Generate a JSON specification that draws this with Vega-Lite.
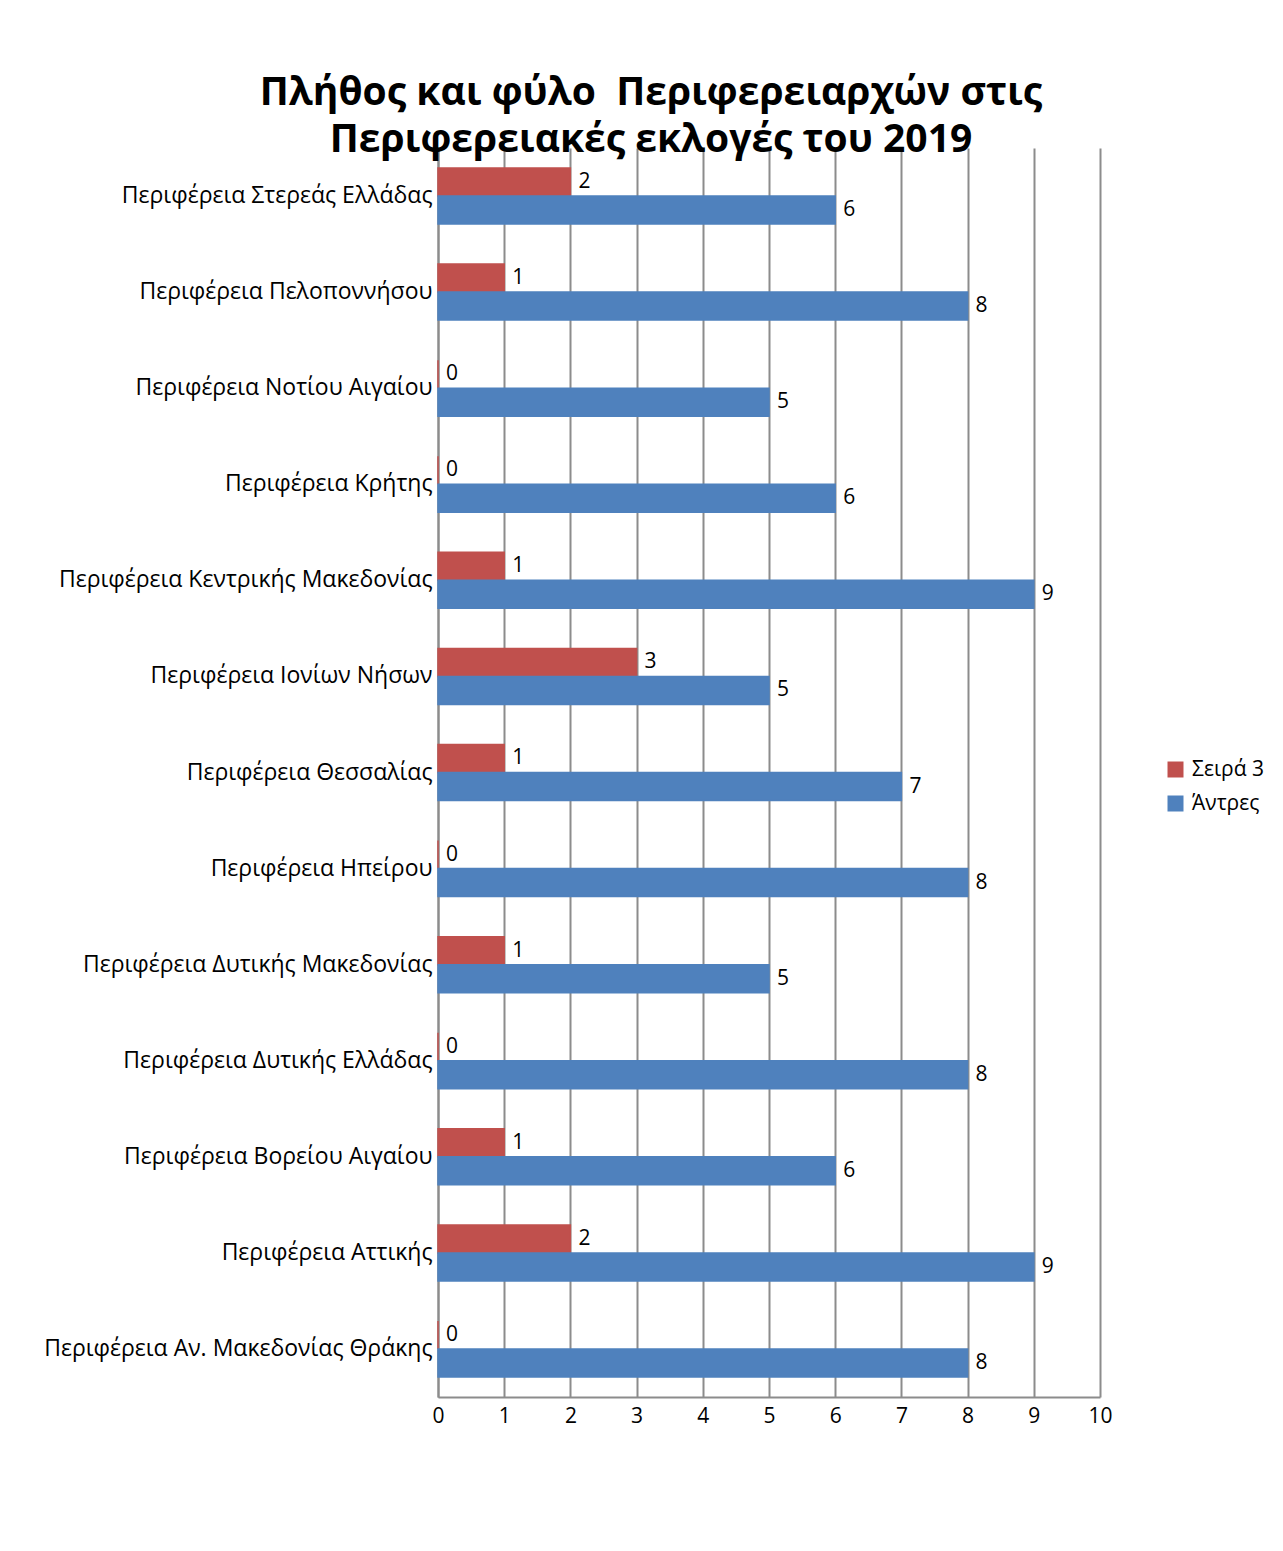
{
  "$schema": "https://vega.github.io/schema/vega-lite/v6.json",
  "width": 662,
  "height": 1249,
  "autosize": {"type": "none"},
  "padding": {"left": 438, "top": 148, "right": 183, "bottom": 154},
  "background": "white",
  "title": {
    "text": ["Πλήθος και φύλο\u00a0 Περιφερειαρχών στις", "Περιφερειακές εκλογές του 2019"],
    "font": "Open Sans",
    "fontSize": 39,
    "fontWeight": "bold",
    "color": "black",
    "anchor": "middle",
    "dx": -118,
    "offset": -12,
    "lineHeight": 47
  },
  "data": {
    "values": [
      {"region": "Περιφέρεια Στερεάς Ελλάδας", "series": "Σειρά 3", "value": 2},
      {"region": "Περιφέρεια Στερεάς Ελλάδας", "series": "Άντρες", "value": 6},
      {"region": "Περιφέρεια Πελοποννήσου", "series": "Σειρά 3", "value": 1},
      {"region": "Περιφέρεια Πελοποννήσου", "series": "Άντρες", "value": 8},
      {"region": "Περιφέρεια Νοτίου Αιγαίου", "series": "Σειρά 3", "value": 0},
      {"region": "Περιφέρεια Νοτίου Αιγαίου", "series": "Άντρες", "value": 5},
      {"region": "Περιφέρεια Κρήτης", "series": "Σειρά 3", "value": 0},
      {"region": "Περιφέρεια Κρήτης", "series": "Άντρες", "value": 6},
      {"region": "Περιφέρεια Κεντρικής Μακεδονίας", "series": "Σειρά 3", "value": 1},
      {"region": "Περιφέρεια Κεντρικής Μακεδονίας", "series": "Άντρες", "value": 9},
      {"region": "Περιφέρεια Ιονίων Νήσων", "series": "Σειρά 3", "value": 3},
      {"region": "Περιφέρεια Ιονίων Νήσων", "series": "Άντρες", "value": 5},
      {"region": "Περιφέρεια Θεσσαλίας", "series": "Σειρά 3", "value": 1},
      {"region": "Περιφέρεια Θεσσαλίας", "series": "Άντρες", "value": 7},
      {"region": "Περιφέρεια Ηπείρου", "series": "Σειρά 3", "value": 0},
      {"region": "Περιφέρεια Ηπείρου", "series": "Άντρες", "value": 8},
      {"region": "Περιφέρεια Δυτικής Μακεδονίας", "series": "Σειρά 3", "value": 1},
      {"region": "Περιφέρεια Δυτικής Μακεδονίας", "series": "Άντρες", "value": 5},
      {"region": "Περιφέρεια Δυτικής Ελλάδας", "series": "Σειρά 3", "value": 0},
      {"region": "Περιφέρεια Δυτικής Ελλάδας", "series": "Άντρες", "value": 8},
      {"region": "Περιφέρεια Βορείου Αιγαίου", "series": "Σειρά 3", "value": 1},
      {"region": "Περιφέρεια Βορείου Αιγαίου", "series": "Άντρες", "value": 6},
      {"region": "Περιφέρεια Αττικής", "series": "Σειρά 3", "value": 2},
      {"region": "Περιφέρεια Αττικής", "series": "Άντρες", "value": 9},
      {"region": "Περιφέρεια Αν. Μακεδονίας Θράκης", "series": "Σειρά 3", "value": 0},
      {"region": "Περιφέρεια Αν. Μακεδονίας Θράκης", "series": "Άντρες", "value": 8}
    ]
  },
  "encoding": {
    "y": {
      "field": "region",
      "type": "nominal",
      "sort": null,
      "scale": {"paddingInner": 0.417, "paddingOuter": 0.208},
      "axis": {
        "title": null,
        "ticks": false,
        "grid": false,
        "domainColor": "#8c8c8c",
        "domainWidth": 2,
        "labelFont": "Open Sans",
        "labelFontSize": 23,
        "labelColor": "black",
        "labelPadding": 6,
        "labelLimit": 0
      }
    },
    "yOffset": {
      "field": "series",
      "type": "nominal",
      "sort": ["Σειρά 3", "Άντρες"],
      "scale": {"paddingInner": 0, "paddingOuter": 0}
    },
    "x": {
      "field": "value",
      "type": "quantitative",
      "scale": {"domain": [0, 10], "nice": false},
      "axis": {
        "title": null,
        "values": [0, 1, 2, 3, 4, 5, 6, 7, 8, 9, 10],
        "format": "d",
        "grid": true,
        "gridColor": "#8c8c8c",
        "gridWidth": 2,
        "ticks": false,
        "domainColor": "#8c8c8c",
        "domainWidth": 2,
        "labelFont": "Open Sans",
        "labelFontSize": 21,
        "labelColor": "black",
        "labelPadding": 8,
        "labelFlush": false
      }
    }
  },
  "layer": [
    {
      "mark": {"type": "bar", "strokeWidth": 1.5},
      "encoding": {
        "color": {
          "field": "series",
          "type": "nominal",
          "scale": {"domain": ["Σειρά 3", "Άντρες"], "range": ["#C0504D", "#4F81BD"]},
          "legend": {
            "title": null,
            "orient": "none",
            "legendX": 727,
            "legendY": 611,
            "symbolType": "square",
            "symbolSize": 256,
            "symbolStrokeWidth": 0,
            "labelFont": "Open Sans",
            "labelFontSize": 21,
            "labelColor": "black",
            "rowPadding": 12,
            "labelOffset": 6
          }
        },
        "stroke": {
          "field": "series",
          "type": "nominal",
          "scale": {"domain": ["Σειρά 3", "Άντρες"], "range": ["#C0504D", "#4F81BD"]},
          "legend": null
        }
      }
    },
    {
      "mark": {"type": "text", "align": "left", "baseline": "middle", "dx": 8, "font": "Open Sans", "fontSize": 21, "color": "black"},
      "encoding": {
        "text": {"field": "value", "type": "quantitative"}
      }
    }
  ],
  "config": {
    "view": {"stroke": null}
  }
}
